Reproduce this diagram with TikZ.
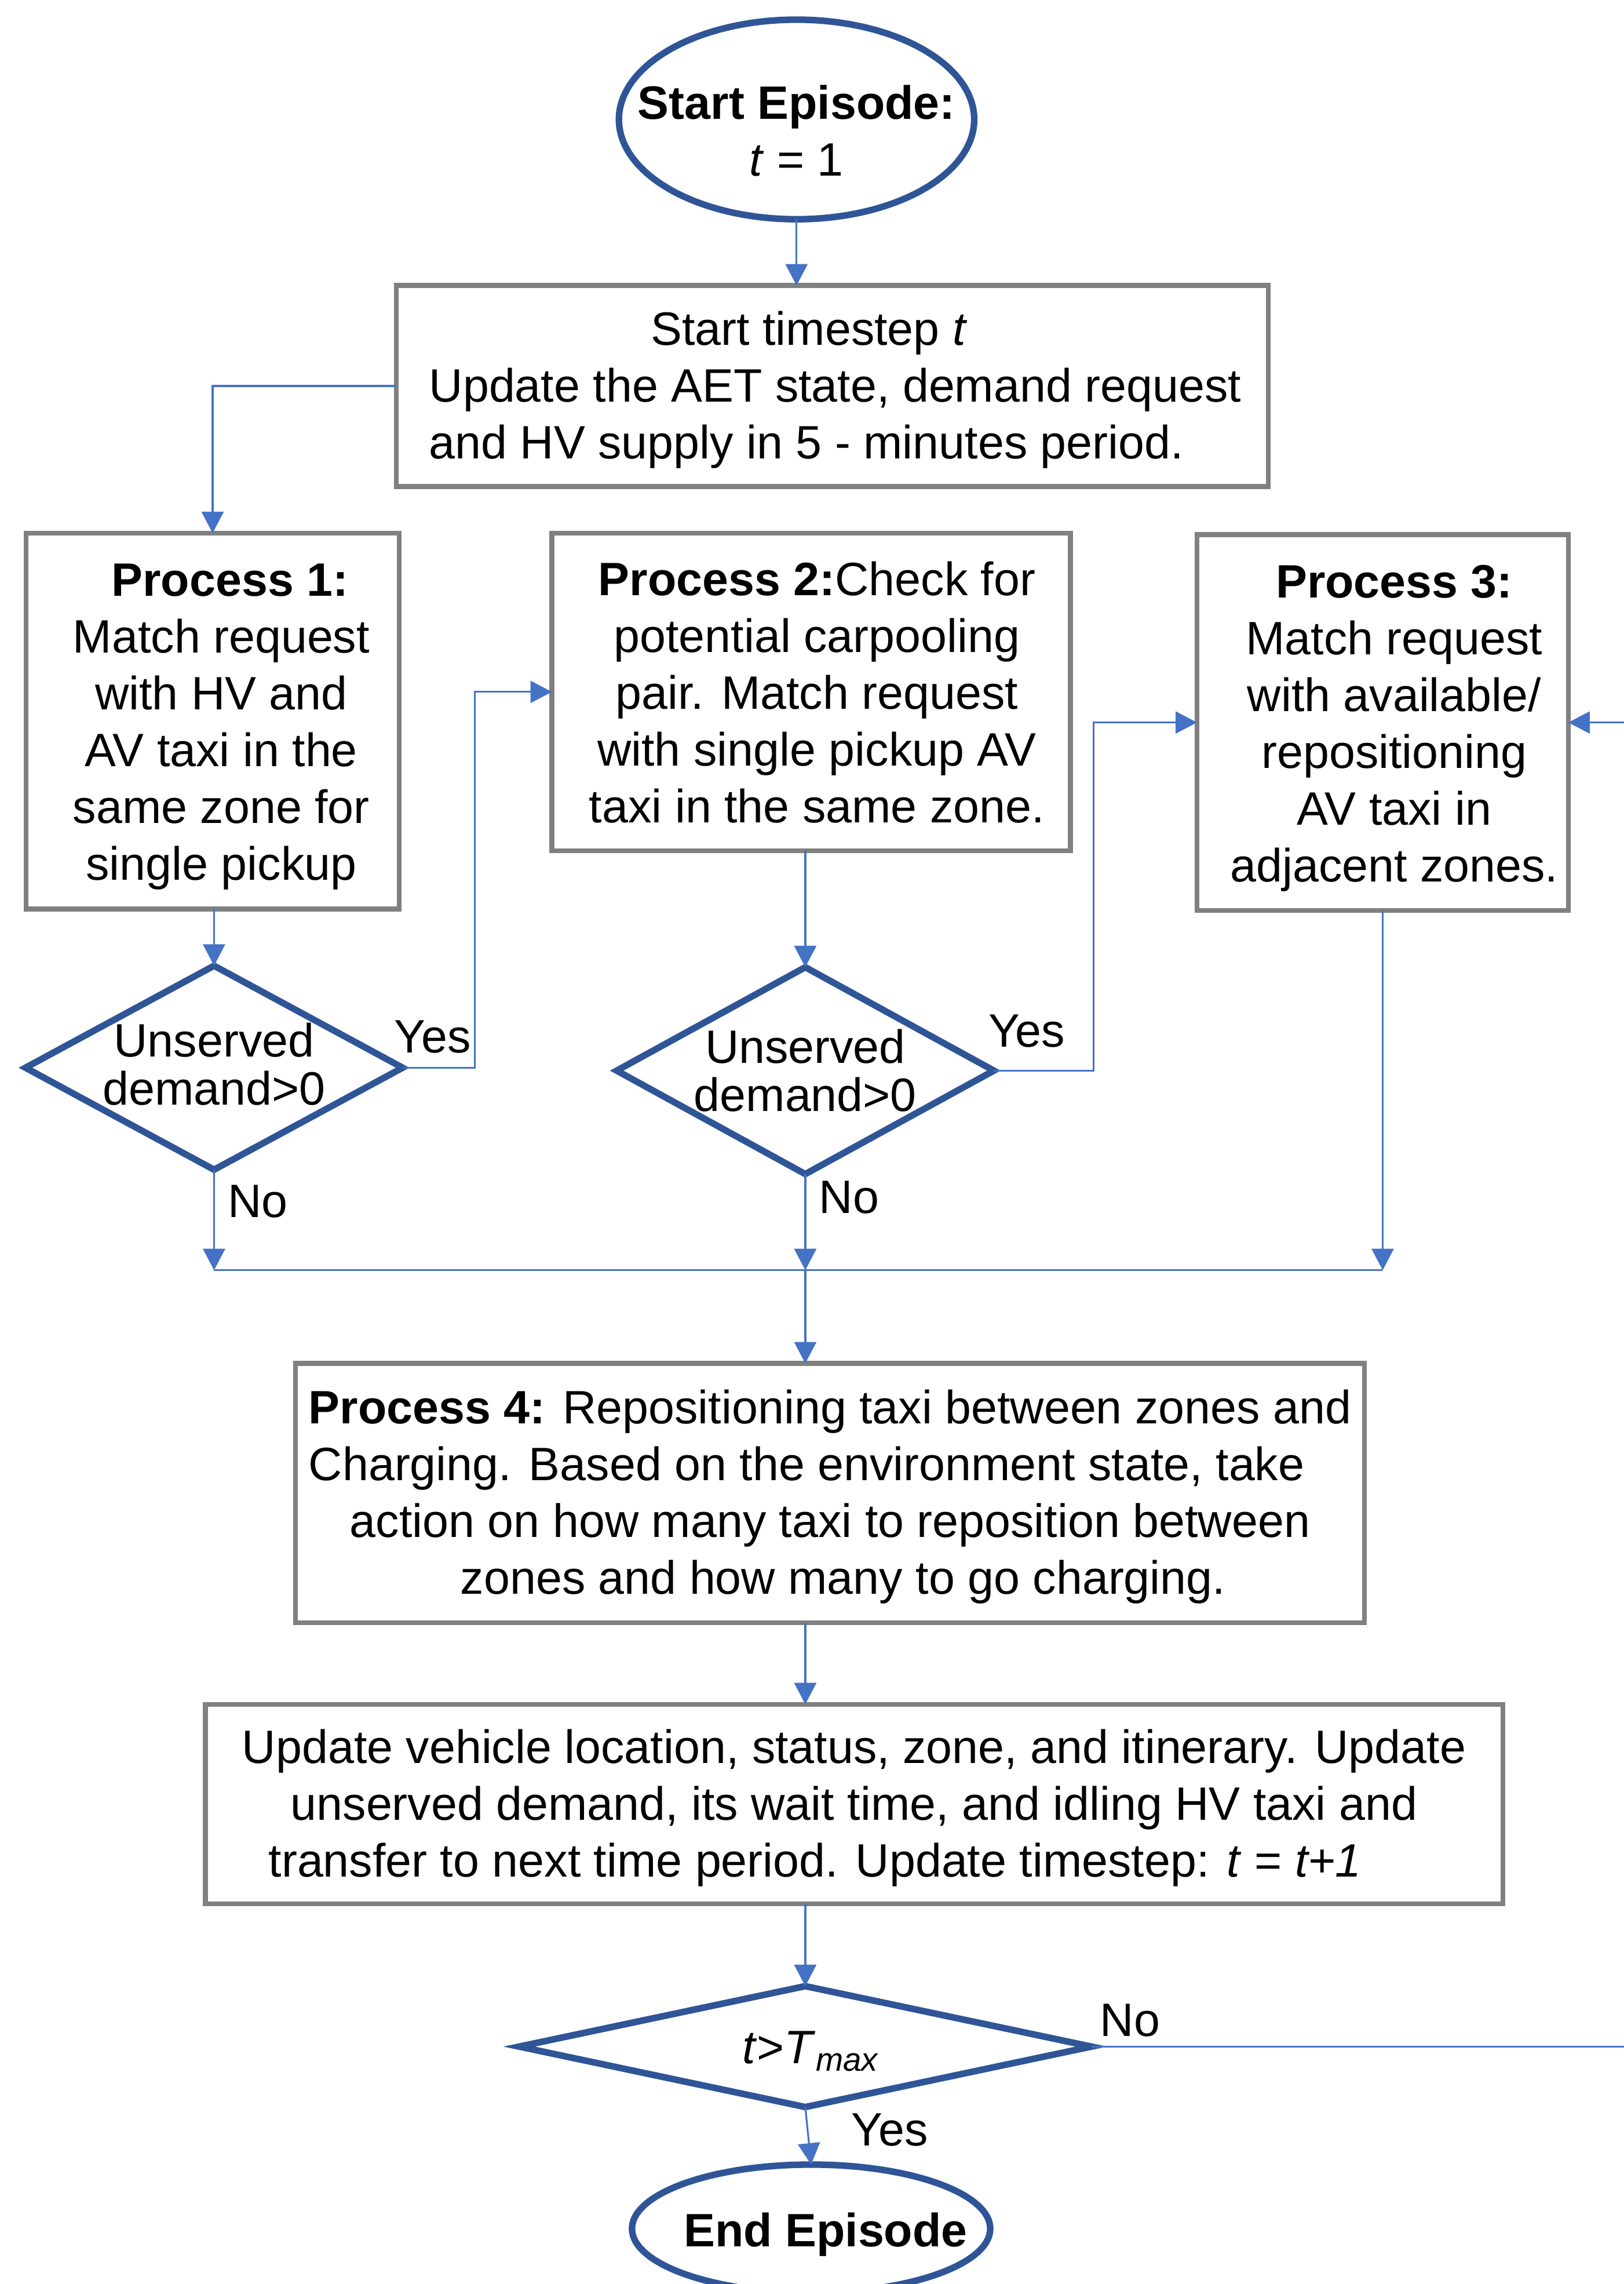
\documentclass[tikz,border=0pt]{standalone}
\usepackage{fontspec}
\setmainfont{Liberation Sans}
\usetikzlibrary{shapes.geometric,arrows.meta}
\definecolor{dblue}{RGB}{47,85,151}
\definecolor{ablue}{RGB}{68,114,196}
\definecolor{bgrey}{RGB}{128,128,128}
\def\U{0.025139cm}
% \bx{x shift}{down shift}{column spec}{lines}
\newcommand\bx[4]{\raisebox{-#2}[\height][\depth]{\hspace*{#1}\begin{tabular}{@{}#3@{}}#4\end{tabular}\hspace*{-#1}}}
\begin{document}
\begin{tikzpicture}[x=0.025139cm, y=-0.025139cm,
  every node/.style={font=\fontsize{23}{27.9}\selectfont, inner sep=0pt, outer sep=0pt},
  procbox/.style={draw=bgrey, line width=0.083cm, rectangle},
  term/.style={draw=dblue, line width=0.113cm, ellipse},
  decide/.style={draw=dblue, line width=0.113cm, diamond},
  conn/.style={draw=ablue, line width=0.9pt},
  arr/.style={conn, -{Triangle[length=0.37cm, width=0.38cm]}},
  lbl/.style={font=\fontsize{23}{23.6}\selectfont, align=center},
]
\useasboundingbox (0,0) rectangle (1115,1568);

% terminals
\node[term, minimum width={244*\U}, minimum height={137*\U},
  label={[name=startT, align=center, yshift=-0.2cm]center:{\textbf{Start Episode:}\\\textit{t} = 1}}] (start) at (547,82) {};
\node[term, minimum width={246*\U}, minimum height={88*\U},
  label={[name=endT, xshift=0.25cm, yshift=-0.1cm]center:{\textbf{End Episode}}}] (end) at (557,1530) {};

% process boxes
\node[procbox, minimum width={599*\U}, minimum height={138*\U}] (boxA) at (571.5,265)
  {\bx{0.05cm}{0.08cm}{l}{\multicolumn{1}{c}{Start timestep \textit{t}\hspace*{0.9cm}}\\Update the AET state, demand request\\and HV supply in 5 - minutes period.}};
\node[procbox, minimum width={256*\U}, minimum height={258*\U}] (p1) at (146,495)
  {\bx{0.15cm}{0.1cm}{c}{\hspace*{0.3cm}\textbf{Process 1:}\\Match request\\with HV and\\AV taxi in the\\same zone for\\single pickup}};
\node[procbox, minimum width={356*\U}, minimum height={218*\U}] (p2) at (557,475)
  {\bx{0.1cm}{0.1cm}{c}{\textbf{Process 2:}Check for\\potential carpooling\\pair. Match request\\with single pickup AV\\taxi in the same zone.}};
\node[procbox, minimum width={255*\U}, minimum height={258*\U}] (p3) at (949.5,496)
  {\bx{0.2cm}{0.1cm}{c}{\textbf{Process 3:}\\Match request\\with available/\\repositioning\\AV taxi in\\adjacent zones.}};
\node[procbox, minimum width={734*\U}, minimum height={178*\U}] (p4) at (570,1025)
  {\bx{0cm}{0.08cm}{l}{\textbf{Process 4:} Repositioning taxi between zones and\\Charging. Based on the environment state, take\\\multicolumn{1}{c}{action on how many taxi to reposition between}\\\multicolumn{1}{c}{\hspace*{0.45cm}zones and how many to go charging.}}};
\node[procbox, minimum width={891*\U}, minimum height={137*\U}] (upd) at (586.5,1238.5)
  {\bx{0cm}{0.08cm}{c}{Update vehicle location, status, zone, and itinerary. Update\\unserved demand, its wait time, and idling HV taxi and\\transfer to next time period. Update timestep: \textit{t} = \textit{t+1}\hspace*{1.35cm}}};

% decisions
\node[decide, minimum width={259*\U}, minimum height={140*\U},
  label={[name=d1T, lbl, yshift=0.06cm]center:{Unserved\\demand>0}}] (d1) at (147,733) {};
\node[decide, minimum width={259*\U}, minimum height={142*\U},
  label={[name=d2T, lbl]center:{Unserved\\demand>0}}] (d2) at (553,735) {};
\node[decide, minimum width={393*\U}, minimum height={83*\U},
  label={[name=d3T, xshift=0.1cm, yshift=-0.08cm]center:{\textit{t}>\textit{T}\textsubscript{\textit{max}}}}] (d3) at (553,1405) {};

% branch labels
\node (yes1) at (297,712) {Yes};
\node (no1) at (177,825) {No};
\node (yes2) at (705,708) {Yes};
\node (no2) at (583,822) {No};
\node (no3) at (776,1387) {No};
\node (yes3) at (611,1462) {Yes};

% helper coordinates
\coordinate (yx1) at (326,0);
\coordinate (yx2) at (751,0);
\coordinate (loopx) at (1140,0);
\coordinate (m1) at (147,872);
\coordinate (m2) at (553,872);
\coordinate (m3) at (949.5,872);

% connectors
\draw[arr] (start.south) -- (start.south |- boxA.north);
\draw[arr] (boxA.west) -| (p1.north);
\draw[arr] (d1.north |- p1.south) -- (d1.north);
\draw[arr] (d1.east) -- (d1.east -| yx1) |- (p2.west);
\draw[arr] (d1.south) -- (m1);
\draw[arr] (d2.north |- p2.south) -- (d2.north);
\draw[arr] (d2.east) -- (d2.east -| yx2) |- (p3.west);
\draw[arr] (d2.south) -- (m2);
\draw[arr] (p3.south) -- (m3);
\draw[conn] (m1) -- (m3);
\draw[arr] (m2) -- (m2 |- p4.north);
\draw[arr] (p4.south -| m2) -- (upd.north -| m2);
\draw[arr] (upd.south -| d3.north) -- (d3.north);
\draw[arr] (d3.south) -- (end.north);
\draw[arr] (d3.east) -- (d3.east -| loopx) -- (loopx |- p3.east) -- (p3.east);
\end{tikzpicture}
\end{document}
